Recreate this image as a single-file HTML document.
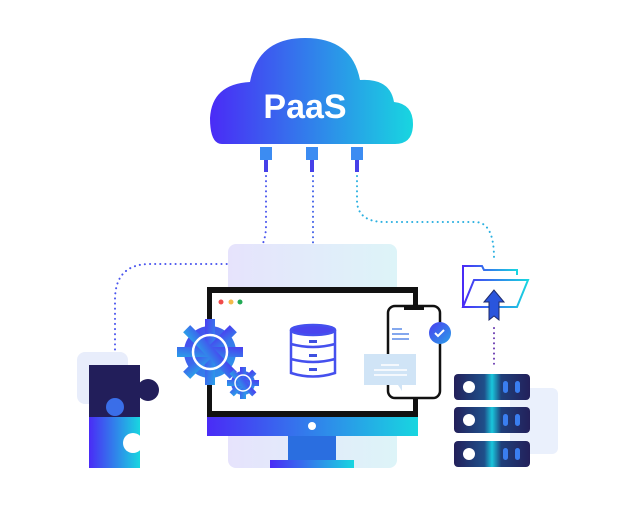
<!DOCTYPE html><html><head><style>html,body{margin:0;padding:0;background:#fff}svg{display:block}</style></head><body>
<svg width="630" height="525" viewBox="0 0 630 525" xmlns="http://www.w3.org/2000/svg">
<defs>
<linearGradient id="g1" x1="0" x2="1" y1="0" y2="0"><stop offset="0" stop-color="#4a2bf6"/><stop offset="1" stop-color="#18d6e0"/></linearGradient>
<linearGradient id="bg" x1="0" x2="1"><stop offset="0" stop-color="#e6e3fc"/><stop offset="1" stop-color="#ddf4f8"/></linearGradient>
<linearGradient id="sv" x1="0" x2="1"><stop offset="0" stop-color="#23205a"/><stop offset="0.4" stop-color="#1f4f8a"/><stop offset="0.5" stop-color="#19c6dc"/><stop offset="0.62" stop-color="#1f3f7a"/><stop offset="1" stop-color="#23205a"/></linearGradient>
<linearGradient id="gr" x1="0" x2="1" y1="0" y2="1"><stop offset="0" stop-color="#4a3ef0"/><stop offset="1" stop-color="#2aa0e8"/></linearGradient>
</defs>
<path d="M222,144 Q210,144 210,118 Q212,84 250,82 Q258,38 305,38 Q352,38 360,80 Q390,78 394,102 Q413,104 413,124 Q413,144 395,144 Z" fill="url(#g1)"/>
<text x="305" y="118" font-family="Liberation Sans,sans-serif" font-weight="bold" font-size="34" fill="#fff" text-anchor="middle">PaaS</text>
<g fill="#3c8cf2"><rect x="260" y="147" width="12" height="13"/><rect x="306" y="147" width="12" height="13"/><rect x="351" y="147" width="12" height="13"/></g>
<g fill="#4640e8"><rect x="264" y="160" width="4" height="12"/><rect x="310" y="160" width="4" height="12"/><rect x="355" y="160" width="4" height="12"/></g>
<g fill="none" stroke-width="2" stroke-dasharray="0.1,5" stroke-linecap="round">
<path d="M266,176 L266,225 Q266,264 225,264 L150,264 Q115,264 115,300 L115,355" stroke="#4a55ee"/>
<path d="M313,176 L313,278" stroke="#4060e8"/>
<path d="M357,176 L357,200 Q357,222 385,222 L475,222 Q494,222 494,258" stroke="#2ab0e0"/>
<path d="M494,328 L494,366" stroke="#6a3ab0"/>
</g>
<rect x="228" y="244" width="169" height="224" rx="8" fill="url(#bg)"/>
<rect x="207" y="287" width="211" height="130" fill="#111"/>
<rect x="212" y="293" width="201" height="118" fill="#fff"/>
<rect x="207" y="417" width="211" height="19" fill="url(#g1)"/>
<circle cx="312" cy="426" r="4" fill="#fff"/>
<rect x="288" y="436" width="48" height="24" fill="#2a6ee0"/>
<rect x="270" y="460" width="84" height="8" fill="url(#g1)"/>
<circle cx="221" cy="302" r="2.5" fill="#f04a4a"/><circle cx="231" cy="302" r="2.5" fill="#f4b94a"/><circle cx="240" cy="302" r="2.5" fill="#22aa55"/>
<g fill="url(#gr)">
<circle cx="210" cy="352" r="26"/>
<g transform="translate(210,352)"><rect x="-5" y="-33" width="10" height="66"/><rect x="-5" y="-33" width="10" height="66" transform="rotate(45)"/><rect x="-5" y="-33" width="10" height="66" transform="rotate(90)"/><rect x="-5" y="-33" width="10" height="66" transform="rotate(135)"/></g>
<circle cx="243" cy="383" r="12"/>
<g transform="translate(243,383)"><rect x="-3" y="-16" width="6" height="32"/><rect x="-3" y="-16" width="6" height="32" transform="rotate(45)"/><rect x="-3" y="-16" width="6" height="32" transform="rotate(90)"/><rect x="-3" y="-16" width="6" height="32" transform="rotate(135)"/></g>
</g>
<circle cx="210" cy="352" r="17" fill="none" stroke="#fff" stroke-width="2.5"/>
<circle cx="243" cy="383" r="8" fill="none" stroke="#fff" stroke-width="1.5"/>
<g fill="none" stroke="#4550ee" stroke-width="2.5">
<ellipse cx="313" cy="330" rx="22" ry="5" fill="#4a45ee"/>
<path d="M291,330 V373 Q313,380 335,373 V330 M291,344 Q313,350 335,344 M291,359 Q313,365 335,359"/>
</g>
<g fill="#3e50e0"><rect x="309" y="340" width="8" height="3"/><rect x="309" y="354" width="8" height="3"/><rect x="309" y="368" width="8" height="3"/></g>
<rect x="388" y="306" width="52" height="92" rx="7" fill="#fff" stroke="#111" stroke-width="2.5"/>
<rect x="404" y="306" width="20" height="4" fill="#111"/>
<g stroke="#5a8ae8" stroke-width="1.5"><line x1="392" y1="329" x2="402" y2="329"/><line x1="392" y1="334" x2="409" y2="334"/><line x1="392" y1="339" x2="409" y2="339"/></g>
<circle cx="440" cy="333" r="11" fill="url(#gr)"/>
<path d="M435,333 l3,3 l6,-6" stroke="#fff" stroke-width="2" fill="none"/>
<rect x="364" y="354" width="52" height="31" fill="#d0e4f6"/>
<path d="M398,385 l4,6 l0,-6z" fill="#d0e4f6"/>
<g stroke="#fff" stroke-width="1.5"><line x1="381" y1="365" x2="399" y2="365"/><line x1="374" y1="370" x2="407" y2="370"/><line x1="374" y1="375" x2="407" y2="375"/></g>
<rect x="77" y="352" width="51" height="52" rx="8" fill="#e8edfb"/>
<rect x="89" y="365" width="51" height="52" fill="#221e5a"/>
<circle cx="148" cy="390" r="11" fill="#221e5a"/>
<rect x="89" y="417" width="51" height="51" fill="url(#g1)"/>
<circle cx="115" cy="407" r="9" fill="#3a6ee8"/>
<circle cx="133" cy="443" r="10" fill="#fff"/>
<g fill="none" stroke="url(#g1)" stroke-width="2">
<path d="M463,307 V266 H482 L484,270 H517 V275"/>
<path d="M463,307 L474,280 H528 L517,307 Z" fill="#fff"/>
</g>
<path d="M494,290 L484,302 H489 V320 L494,316 L499,320 V302 H504 Z" fill="#2a55dd" stroke="#1e2a6a" stroke-width="1"/>
<rect x="510" y="388" width="48" height="66" rx="6" fill="#eaf0fc"/>
<rect x="454" y="374" width="76" height="26" rx="4" fill="url(#sv)"/>
<rect x="454" y="407" width="76" height="26" rx="4" fill="url(#sv)"/>
<rect x="454" y="441" width="76" height="26" rx="4" fill="url(#sv)"/>
<g fill="#fff"><circle cx="469" cy="387" r="6"/><circle cx="469" cy="420" r="6"/><circle cx="469" cy="454" r="6"/></g>
<g fill="#3a7ef0"><rect x="503" y="381" width="5" height="12" rx="2.5"/><rect x="515" y="381" width="5" height="12" rx="2.5"/><rect x="503" y="414" width="5" height="12" rx="2.5"/><rect x="515" y="414" width="5" height="12" rx="2.5"/><rect x="503" y="448" width="5" height="12" rx="2.5"/><rect x="515" y="448" width="5" height="12" rx="2.5"/></g>
</svg>
</body></html>
